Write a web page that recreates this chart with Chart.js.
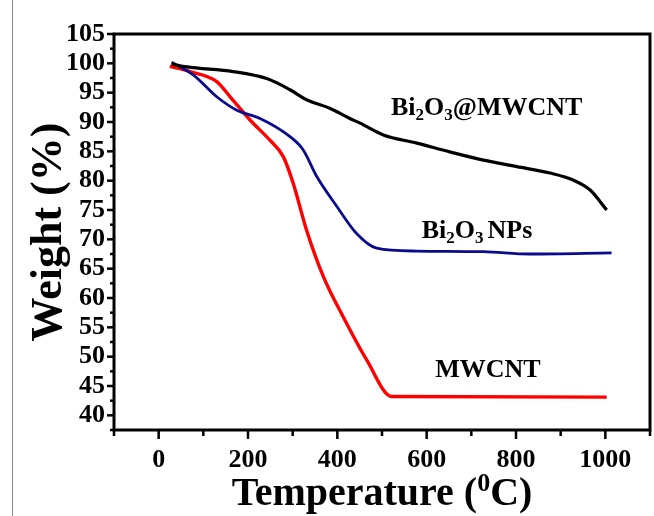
<!DOCTYPE html>
<html>
<head>
<meta charset="utf-8">
<script src="https://cdn.jsdelivr.net/npm/chart.js@4.4.1/dist/chart.umd.min.js"></script>
<style>
  html, body { margin: 0; padding: 0; background: #fff; }
  #wrap { width: 654px; height: 516px; }
</style>
</head>
<body>
<div id="wrap"><canvas id="tgaChart" width="654" height="516"></canvas></div>
<script>
// TGA curves
var tempComposite = [29, 63, 167, 242, 294, 331, 384, 428, 451, 503, 578, 652, 727, 802, 876, 928, 966, 1003];
var weightComposite = [99.9, 99.4, 98.6, 97.4, 95.5, 93.8, 92.3, 90.6, 89.8, 87.8, 86.4, 84.9, 83.5, 82.4, 81.3, 80.1, 78.4, 75.0];

var tempNPs = [29, 78, 130, 175, 227, 294, 324, 354, 399, 443, 488, 578, 727, 831, 1014];
var weightNPs = [100.2, 98.0, 94.3, 92.0, 90.6, 87.5, 85.2, 80.7, 75.6, 71.0, 68.5, 68.0, 67.9, 67.5, 67.7];

var tempMWCNT = [25, 70, 130, 160, 205, 249, 279, 301, 331, 369, 413, 466, 522, 1003];
var weightMWCNT = [99.5, 98.6, 96.9, 94.3, 90.3, 86.9, 84.1, 79.6, 71.6, 63.6, 56.8, 49.4, 43.2, 43.1];

// where the curve names sit, in data units [temperature, weight]
var labelComposite = [520, 91.2];
var labelNPs = [589, 70.2];
var labelMWCNT = [619, 46.6];

function pairs(xs, ys) {
  return xs.map(function (v, i) { return { x: v, y: ys[i] }; });
}

var serif = "'Liberation Serif', 'Times New Roman', serif";

// draws "Bi" + sub "2" + "O" + sub "3" + rest
function drawChem(ctx, parts, x, y) {
  parts.forEach(function (p) {
    if (p.sub) {
      ctx.font = 'bold 17px ' + serif;
      ctx.fillText(p.t, x, y + 5);
    } else {
      ctx.font = 'bold 26px ' + serif;
      ctx.fillText(p.t, x, y);
    }
    x += ctx.measureText(p.t).width + (p.gap || 0);
  });
}

var decor = {
  id: 'decor',
  afterDraw: function (chart) {
    var ctx = chart.ctx, a = chart.chartArea;
    var xs = chart.scales.x, ys = chart.scales.y;
    ctx.save();

    // thin outer line of the figure
    ctx.strokeStyle = '#8a8a8a';
    ctx.lineWidth = 1;
    ctx.beginPath(); ctx.moveTo(12.5, 0); ctx.lineTo(12.5, 516); ctx.stroke();

    // frame
    ctx.strokeStyle = '#000';
    ctx.lineWidth = 3;
    ctx.strokeRect(a.left, a.top, a.right - a.left, a.bottom - a.top);

    // ticks
    ctx.lineWidth = 2.5;
    xs.ticks.forEach(function (t) {
      var px = xs.getPixelForValue(t.value);
      var len = (t.value % 200 === 0) ? 9 : 6;
      ctx.beginPath(); ctx.moveTo(px, a.bottom); ctx.lineTo(px, a.bottom + len); ctx.stroke();
    });
    ys.ticks.forEach(function (t) {
      var py = ys.getPixelForValue(t.value);
      var len = (Math.abs(t.value % 5) < 1e-6) ? 7 : 4;
      ctx.beginPath(); ctx.moveTo(a.left, py); ctx.lineTo(a.left - len, py); ctx.stroke();
    });

    // axis titles
    ctx.fillStyle = '#000';
    ctx.textBaseline = 'alphabetic';
    var t1 = 'Temperature (', t3 = 'C)';
    ctx.font = 'bold 40px ' + serif;
    var w1 = ctx.measureText(t1).width, w3 = ctx.measureText(t3).width;
    ctx.font = 'bold 26px ' + serif;
    var w2 = ctx.measureText('0').width;
    var cx = (a.left + a.right) / 2;
    var sx = cx - (w1 + w2 + w3) / 2, by = 505;
    ctx.font = 'bold 40px ' + serif;
    ctx.fillText(t1, sx, by);
    ctx.font = 'bold 26px ' + serif;
    ctx.fillText('0', sx + w1, by - 14);
    ctx.font = 'bold 40px ' + serif;
    ctx.fillText(t3, sx + w1 + w2, by);

    ctx.save();
    ctx.translate(61, (a.top + a.bottom) / 2);
    ctx.rotate(-Math.PI / 2);
    ctx.textAlign = 'center';
    ctx.font = 'bold 44px ' + serif;
    ctx.fillText('Weight (%)', 0, 0);
    ctx.restore();

    // curve names
    ctx.textAlign = 'left';
    drawChem(ctx, [{ t: 'Bi' }, { t: '2', sub: true }, { t: 'O' }, { t: '3', sub: true }, { t: '@MWCNT' }],
      xs.getPixelForValue(labelComposite[0]), ys.getPixelForValue(labelComposite[1]));
    drawChem(ctx, [{ t: 'Bi' }, { t: '2', sub: true }, { t: 'O' }, { t: '3', sub: true, gap: 4 }, { t: 'NPs' }],
      xs.getPixelForValue(labelNPs[0]), ys.getPixelForValue(labelNPs[1]));
    drawChem(ctx, [{ t: 'MWCNT' }],
      xs.getPixelForValue(labelMWCNT[0]), ys.getPixelForValue(labelMWCNT[1]));

    ctx.restore();
  }
};

var tickFont = { family: serif, size: 26, weight: 'bold' };

new Chart(document.getElementById('tgaChart'), {
  type: 'line',
  data: {
    datasets: [
      { label: 'Bi2O3@MWCNT', data: pairs(tempComposite, weightComposite), borderColor: '#000000', borderWidth: 3.2 },
      { label: 'Bi2O3 NPs', data: pairs(tempNPs, weightNPs), borderColor: '#0a0a8c', borderWidth: 2.8 },
      { label: 'MWCNT', data: pairs(tempMWCNT, weightMWCNT), borderColor: '#ff0000', borderWidth: 3.4 }
    ]
  },
  options: {
    responsive: false,
    animation: false,
    events: [],
    layout: { padding: { top: 34, right: 4, left: 0, bottom: 0 } },
    elements: {
      point: { radius: 0 },
      line: { cubicInterpolationMode: 'monotone', fill: false }
    },
    plugins: { legend: { display: false }, tooltip: { enabled: false } },
    scales: {
      x: {
        type: 'linear',
        min: -100, max: 1100,
        afterFit: function (s) { s.height = 86; s.paddingLeft = 0; s.paddingRight = 0; },
        grid: { display: false, drawTicks: false },
        border: { display: false },
        ticks: {
          stepSize: 100, autoSkip: false, maxRotation: 0, padding: 15,
          color: '#000', font: tickFont,
          callback: function (v) { return (v % 200 === 0 && v >= 0 && v <= 1000) ? String(v) : ''; }
        }
      },
      y: {
        type: 'linear',
        min: 37.5, max: 105,
        afterFit: function (s) { s.width = 114; s.paddingTop = 0; s.paddingBottom = 0; },
        grid: { display: false, drawTicks: false },
        border: { display: false },
        ticks: {
          stepSize: 2.5, autoSkip: false, padding: 9,
          color: '#000', font: tickFont,
          callback: function (v) { return (Math.abs(v % 5) < 1e-6 && v >= 40) ? String(v) : ''; }
        }
      }
    }
  },
  plugins: [decor]
});
</script>
</body>
</html>
